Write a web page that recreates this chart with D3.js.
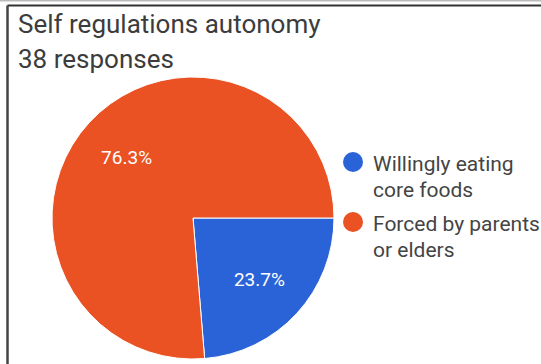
<!DOCTYPE html>
<html>
<head>
<meta charset="utf-8">
<script src="https://cdn.jsdelivr.net/npm/d3@7"></script>
<style>
  html, body { margin: 0; padding: 0; background: #fff; }
  svg { display: block; }
</style>
</head>
<body>
<svg id="chart" width="541" height="364"></svg>
<script>
// Survey answers (38 responses)
const categories = ["Willingly eating core foods", "Forced by parents or elders"];
const legendLines = [["Willingly eating", "core foods"], ["Forced by parents", "or elders"]];
const counts = [9, 29];
const colors = ["#2a63d8", "#ea5123"];
const title = "Self regulations autonomy";
const subtitle = "38 responses";

const W = 541, H = 364;
const svg = d3.select("#chart");

// frame
svg.append("rect").attr("x", 0).attr("y", 0).attr("width", W).attr("height", 1.5).attr("fill", "#bbb");
svg.append("line").attr("x1", 7.5).attr("x2", W).attr("y1", 5.5).attr("y2", 5.5)
  .attr("stroke", "#333").attr("stroke-width", 2);
svg.append("line").attr("x1", 7.5).attr("x2", 7.5).attr("y1", 5.5).attr("y2", H)
  .attr("stroke", "#444").attr("stroke-width", 2.5);

svg.append("text").attr("x", 18).attr("y", 33).text(title)
  .attr("font-family", "Roboto").attr("font-size", 26).attr("fill", "#3c3c3c");
svg.append("text").attr("x", 18).attr("y", 68).text(subtitle)
  .attr("font-family", "Roboto").attr("font-size", 26).attr("fill", "#3c3c3c");

const cx = 193, cy = 218, r = 141;
const total = d3.sum(counts);
const pie = d3.pie().sort(null).value(d => d)
  .startAngle(Math.PI / 2).endAngle(Math.PI / 2 + 2 * Math.PI);
const arcs = pie(counts);
const arc = d3.arc().innerRadius(0).outerRadius(r);
const labelArc = d3.arc().innerRadius(r * 0.64).outerRadius(r * 0.64);

const g = svg.append("g").attr("transform", `translate(${cx},${cy})`);
g.selectAll("path").data(arcs).join("path")
  .attr("d", arc)
  .attr("fill", (d, i) => colors[i])
  .attr("stroke", "#fff").attr("stroke-width", 1);

g.selectAll("text.pct").data(arcs).join("text")
  .attr("class", "pct")
  .attr("transform", d => `translate(${labelArc.centroid(d)})`)
  .attr("text-anchor", "middle").attr("dy", "0.35em")
  .attr("font-family", "Roboto").attr("font-size", 19).attr("fill", "#fff")
  .text(d => (d.value / total * 100).toFixed(1) + "%");

// legend
const lg = svg.append("g");
const legendY = [162, 222];
categories.forEach((c, i) => {
  lg.append("circle").attr("cx", 353).attr("cy", legendY[i]).attr("r", 10).attr("fill", colors[i]);
  legendLines[i].forEach((line, j) => {
    lg.append("text").attr("x", 373).attr("y", legendY[i] + 9 + j * 26)
      .attr("font-family", "Roboto").attr("font-size", 21).attr("fill", "#444")
      .text(line);
  });
});
</script>
</body>
</html>
